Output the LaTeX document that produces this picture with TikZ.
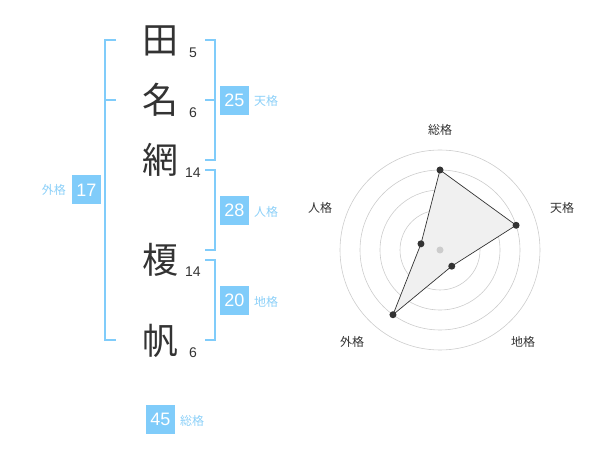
\documentclass[tikz,border=0pt]{standalone}
\usepackage{fontspec}
\setmainfont{Noto Sans CJK JP}
\newfontfamily\numfont{Liberation Sans}
\definecolor{skyb}{RGB}{128,204,250}
\definecolor{skyt}{RGB}{140,208,248}
\definecolor{ink}{RGB}{51,51,51}
\definecolor{ring}{RGB}{204,204,204}
\definecolor{area}{RGB}{240,240,240}
\tikzset{
  bigchar/.style={font=\fontsize{36}{36}\selectfont, text=ink, inner sep=0pt},
  strokes/.style={font=\numfont\fontsize{14}{14}\selectfont, text=ink, inner sep=0pt},
  scorebox/.style={fill=skyb, text=white, minimum size=29pt, inner sep=0pt, font=\numfont\fontsize{18}{18}\selectfont},
  kakulabel/.style={text=skyt, inner sep=0pt, font=\fontsize{12}{12}\selectfont},
  bracket/.style={draw=skyb, line width=2pt},
  radarlabel/.style={text=ink, inner sep=0pt, font=\fontsize{12}{12}\selectfont},
  dot/.style={circle, fill=ink, inner sep=0pt, minimum size=7pt},
}
\begin{document}
\begin{tikzpicture}[x=1pt,y=-1pt]
\useasboundingbox (0,0) rectangle (600,470);
% name characters
\node[bigchar] (c1) at (160,41) {田};
\node[bigchar] (c2) at (160,100) {名};
\node[bigchar] (c3) at (160,160) {網};
\node[bigchar] (c4) at (160,260) {榎};
\node[bigchar] (c5) at (160,341) {帆};
\node[strokes] (s1) at (193,53) {5};
\node[strokes] (s2) at (193,113) {6};
\node[strokes] (s3) at (193,173) {14};
\node[strokes] (s4) at (193,272) {14};
\node[strokes] (s5) at (193,353) {6};
% brackets
\draw[bracket] (116,40) -- (105,40) -- (105,340) -- (116,340);
\draw[bracket] (105,100) -- (116,100);
\draw[bracket] (205,40) -- (214.5,40) -- (214.5,160) -- (205,160);
\draw[bracket] (205,100) -- (214.5,100);
\draw[bracket] (205,170) -- (214.5,170) -- (214.5,250) -- (205,250);
\draw[bracket] (205,260) -- (214.5,260) -- (214.5,340) -- (205,340);
% score boxes
\node[scorebox] (gai) at (86.5,190) {17};
\node[kakulabel, anchor=east] (gail) at (66,190) {外格};
\node[scorebox] (ten) at (234.5,100.5) {25};
\node[kakulabel, anchor=west] (tenl) at (254,100.5) {天格};
\node[scorebox] (jin) at (234.5,210.5) {28};
\node[kakulabel, anchor=west] (jinl) at (254,212) {人格};
\node[scorebox] (chi) at (234.5,300.5) {20};
\node[kakulabel, anchor=west] (chil) at (254,302) {地格};
\node[scorebox] (sou) at (160.5,419) {45};
\node[kakulabel, anchor=west] (soul) at (180,421) {総格};
% radar chart
\begin{scope}[shift={(440,250)}]
  \foreach \r in {20,40,60,80,100} \draw[ring, line width=0.6pt] (0,0) circle (\r);
  \coordinate (p1) at (-90:80);
  \coordinate (p2) at (-18:80);
  \coordinate (p3) at (54:20);
  \coordinate (p4) at (126:80);
  \coordinate (p5) at (198:20);
  \filldraw[fill=area, draw=ink, line width=0.7pt] (p1) -- (p2) -- (p3) -- (p4) -- (p5) -- cycle;
  \node[circle, fill=ring, inner sep=0pt, minimum size=7pt] (ctr) at (0,0) {};
  \foreach \p in {p1,p2,p3,p4,p5} \node[dot] (d\p) at (\p) {};
\end{scope}
\node[radarlabel] (r1) at (440,130) {総格};
\node[radarlabel] (r2) at (562,208) {天格};
\node[radarlabel] (r3) at (523,342) {地格};
\node[radarlabel] (r4) at (352,342) {外格};
\node[radarlabel] (r5) at (320,208) {人格};
\end{tikzpicture}
\end{document}
